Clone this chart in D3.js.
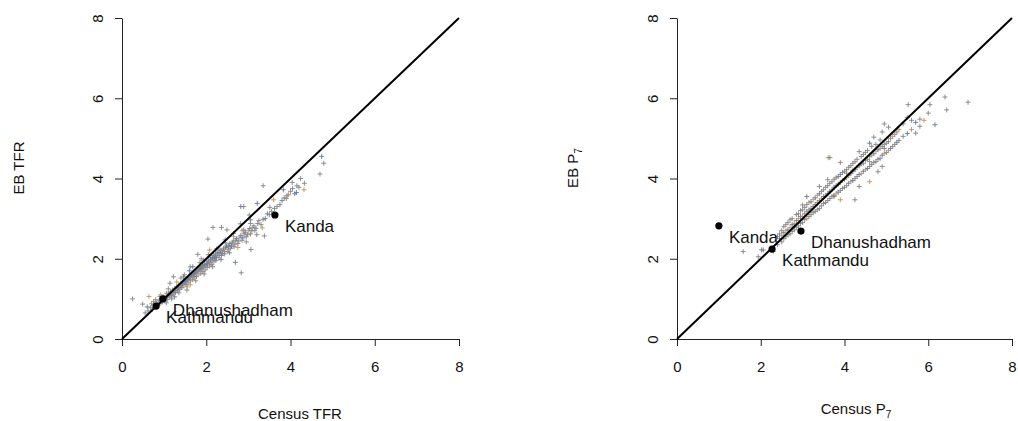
<!DOCTYPE html>
<html>
<head>
<meta charset="utf-8">
<script src="https://cdn.jsdelivr.net/npm/d3@7"></script>
<style>
  html, body { margin: 0; padding: 0; background: #fff; }
  svg { display: block; font-family: "Liberation Sans", Arial, sans-serif; }
</style>
</head>
<body>
<svg id="chart" width="1018" height="421"></svg>
<script>
// Axis ticks shared by both panels
const tickValues = [0, 2, 4, 6, 8];
const axisDomain = [0, 8];

// District estimates: [census, empirical Bayes, region group]
const tfrPoints = [
  [0.25,1.00,0],[0.49,0.87,0],[0.64,1.06,2],[0.55,0.65,0],[0.60,0.80,1],[0.62,0.70,0],[0.68,0.78,0],
  [0.70,0.88,2],[0.72,0.74,0],[0.75,0.85,1],[0.75,0.93,0],[0.78,0.80,0],[0.80,0.98,0],[0.82,0.90,2],
  [0.85,0.84,0],[0.88,0.95,1],[0.90,0.88,0],[0.90,1.06,0],[0.92,1.10,2],[0.93,0.98,0],[0.95,0.92,0],
  [0.98,1.05,1],[1.00,0.96,0],[1.02,1.02,0],[1.05,1.08,2],[1.05,0.90,0],[1.06,1.14,0],[1.07,0.98,1],
  [1.10,1.12,0],[1.10,1.25,0],[1.12,1.04,2],[1.14,1.39,0],[1.15,1.18,0],[1.17,1.08,1],[1.18,1.00,0],
  [1.20,1.22,0],[1.22,1.12,2],[1.22,1.55,0],[1.25,1.26,0],[1.25,1.05,1],[1.27,1.16,0],[1.30,1.30,0],
  [1.30,1.42,2],[1.32,1.20,0],[1.35,1.34,1],[1.35,1.15,0],[1.37,1.24,0],[1.38,1.30,2],[1.40,1.38,0],
  [1.40,1.52,0],[1.42,1.28,1],[1.45,1.42,0],[1.46,1.55,0],[1.47,1.32,2],[1.48,1.60,0],[1.50,1.46,0],
  [1.52,1.36,1],[1.54,1.22,0],[1.55,1.50,0],[1.55,1.30,2],[1.57,1.40,0],[1.60,1.55,0],[1.60,1.70,1],
  [1.62,1.45,0],[1.62,1.80,0],[1.62,1.35,2],[1.65,1.58,0],[1.67,1.48,0],[1.68,1.80,1],[1.70,1.62,0],
  [1.70,1.55,0],[1.72,1.52,2],[1.75,1.66,0],[1.75,1.45,0],[1.77,1.56,1],[1.80,1.70,0],[1.80,2.11,0],
  [1.82,1.60,2],[1.85,1.74,0],[1.85,1.90,0],[1.86,1.80,1],[1.87,1.64,0],[1.88,2.00,0],[1.90,1.80,2],
  [1.92,1.68,0],[1.94,1.97,0],[1.95,1.84,1],[1.95,1.62,0],[1.97,1.72,0],[2.00,1.88,2],[2.02,1.78,0],
  [2.04,2.49,0],[2.05,1.92,1],[2.05,2.10,0],[2.08,1.82,0],[2.08,2.22,2],[2.10,1.98,0],[2.13,1.86,0],
  [2.15,2.02,1],[2.15,1.80,0],[2.16,2.78,0],[2.18,1.92,2],[2.20,2.06,0],[2.21,2.05,0],[2.23,1.96,1],
  [2.25,2.25,0],[2.26,2.12,0],[2.30,2.02,2],[2.33,2.16,0],[2.33,2.22,0],[2.35,1.98,1],[2.36,2.78,0],
  [2.36,2.08,0],[2.40,2.22,2],[2.43,2.12,0],[2.45,2.40,0],[2.45,2.47,1],[2.46,2.28,0],[2.49,2.72,0],
  [2.50,2.18,2],[2.53,2.30,0],[2.54,2.34,0],[2.55,2.15,1],[2.58,2.26,0],[2.62,2.40,0],[2.65,2.55,2],
  [2.65,2.63,0],[2.66,2.30,0],[2.69,1.91,1],[2.70,2.46,0],[2.75,2.38,0],[2.75,2.28,2],[2.80,2.54,0],
  [2.81,2.87,0],[2.82,3.30,1],[2.83,1.65,0],[2.85,2.46,0],[2.85,2.70,2],[2.89,2.72,0],[2.89,3.30,0],
  [2.90,2.62,1],[2.95,2.55,0],[2.95,2.42,0],[3.00,2.70,2],[3.02,3.09,0],[3.05,2.62,0],[3.05,2.97,1],
  [3.05,2.88,0],[3.06,2.23,0],[3.10,2.78,2],[3.15,2.70,0],[3.20,2.60,0],[3.21,3.38,1],[3.22,2.88,0],
  [3.30,2.85,0],[3.33,2.77,2],[3.35,3.82,0],[3.38,2.57,0],[3.40,3.00,1],[3.50,3.10,0],[3.51,3.28,0],
  [3.60,3.47,2],[3.62,3.25,0],[3.75,3.35,0],[3.83,3.72,1],[3.85,3.52,0],[3.92,3.57,0],[3.95,3.60,2],
  [4.04,3.90,0],[4.05,3.75,0],[4.14,3.65,1],[4.15,3.82,0],[4.24,4.00,0],[4.32,3.72,2],[4.33,3.88,0],
  [4.70,4.11,0],[4.74,4.55,1],[4.79,4.38,0],
  [0.84,0.86,0],[0.96,0.94,1],[1.04,1.00,0],[1.08,1.05,0],[1.13,1.10,1],[1.16,1.12,0],[1.21,1.15,0],
  [1.24,1.20,1],[1.28,1.22,0],[1.31,1.27,0],[1.34,1.28,1],[1.38,1.33,0],[1.41,1.35,0],[1.44,1.38,1],
  [1.46,1.40,0],[1.49,1.43,0],[1.51,1.44,1],[1.53,1.48,0],[1.56,1.49,0],[1.58,1.52,1],[1.61,1.53,0],
  [1.63,1.57,0],[1.66,1.60,1],[1.69,1.61,0],[1.71,1.65,0],[1.73,1.63,1],[1.76,1.70,0],[1.78,1.68,0],
  [1.81,1.74,1],[1.83,1.72,0],[1.86,1.77,0],[1.89,1.76,1],[1.91,1.83,0],[1.93,1.79,0],[1.96,1.86,1],
  [1.99,1.82,0],[2.01,1.94,0],[2.03,1.87,1],[2.06,1.97,0],[2.09,1.90,0],[2.11,2.03,1],[2.14,1.95,0],
  [2.17,2.08,0],[2.19,2.00,1],[2.22,2.12,0],[2.24,2.03,0],[2.28,2.16,1],[2.31,2.08,0],[2.35,2.20,0],
  [2.38,2.13,1],[2.41,2.26,0],[2.44,2.18,0],[2.48,2.32,1],[2.52,2.24,0],[2.56,2.38,0],[2.60,2.32,1],
  [2.64,2.44,0],[2.68,2.36,0],[2.72,2.50,1],[2.77,2.44,0],[2.82,2.58,0],[2.87,2.52,1],[2.93,2.66,0],
  [2.98,2.60,0],[3.03,2.75,1],[3.08,2.70,0],[3.13,2.82,0],[3.18,2.76,1],[3.25,2.95,0],[3.35,2.98,0],
  [3.45,3.12,1],[3.55,3.18,0],[3.68,3.30,0],[3.80,3.45,1],[3.90,3.50,0],[4.00,3.68,0],[4.10,3.62,1],
  [4.20,3.78,0]
];

const p7Points = [
  [1.58,2.18,0],[1.94,2.05,0],[2.02,2.22,1],[2.06,2.22,0],[2.30,2.18,2],
  [2.40,2.35,0],[2.40,2.55,0],[2.45,2.50,1],[2.45,2.62,0],[2.50,2.42,0],[2.50,2.58,2],[2.50,2.70,0],
  [2.55,2.50,0],[2.55,2.65,1],[2.55,2.80,0],[2.60,2.55,0],[2.60,2.70,2],[2.60,2.85,0],[2.65,2.60,0],
  [2.65,2.72,1],[2.65,2.90,0],[2.70,2.62,0],[2.70,2.78,2],[2.70,2.97,0],[2.75,2.68,0],[2.75,2.85,1],
  [2.75,3.00,0],[2.80,2.72,0],[2.80,2.88,2],[2.80,2.80,0],[2.85,2.78,0],[2.85,2.95,1],[2.85,3.10,0],
  [2.90,2.82,0],[2.90,3.00,2],[2.90,3.12,0],[2.95,2.88,0],[2.95,3.05,1],[2.95,3.20,0],[3.00,2.90,0],
  [3.00,3.06,2],[3.00,3.22,0],[3.00,3.34,0],[3.05,2.98,1],[3.05,3.12,0],[3.05,3.28,0],[3.10,3.00,2],
  [3.10,3.18,0],[3.10,3.35,0],[3.10,3.55,1],[3.15,3.05,0],[3.15,3.22,0],[3.15,3.40,2],[3.20,3.10,0],
  [3.20,3.25,0],[3.20,3.42,1],[3.25,3.15,0],[3.25,3.30,0],[3.25,3.48,2],[3.30,3.18,0],[3.30,3.35,0],
  [3.30,3.52,1],[3.35,3.22,0],[3.35,3.40,0],[3.35,3.58,2],[3.40,3.25,0],[3.40,3.45,0],[3.40,3.62,1],
  [3.40,3.80,0],[3.45,3.32,0],[3.45,3.50,2],[3.45,3.68,0],[3.50,3.38,0],[3.50,3.55,1],[3.50,3.72,0],
  [3.55,3.40,0],[3.55,3.58,2],[3.55,3.78,0],[3.60,3.45,0],[3.60,3.62,1],[3.60,3.82,0],[3.60,3.97,0],
  [3.61,4.52,2],[3.65,4.52,0],[3.65,3.50,0],[3.65,3.68,1],[3.65,3.88,0],[3.70,3.55,0],[3.70,3.72,2],
  [3.70,3.92,0],[3.75,3.58,0],[3.75,3.78,1],[3.75,3.98,0],[3.75,3.55,0],[3.80,3.62,2],[3.80,3.82,0],
  [3.80,4.02,0],[3.85,3.66,1],[3.85,3.86,0],[3.85,4.05,0],[3.90,3.47,2],[3.90,3.70,0],[3.90,3.90,0],
  [3.90,4.10,1],[3.90,4.40,0],[3.95,3.75,0],[3.95,3.95,2],[3.95,4.15,0],[4.00,3.78,0],[4.00,3.98,1],
  [4.00,4.18,0],[4.05,3.82,0],[4.05,4.02,2],[4.05,4.13,0],[4.05,4.22,0],[4.10,3.88,1],[4.10,4.08,0],
  [4.10,4.28,0],[4.15,3.92,2],[4.15,4.12,0],[4.15,4.32,0],[4.20,3.95,1],[4.20,4.18,0],[4.20,4.38,0],
  [4.20,4.21,2],[4.25,3.47,0],[4.25,4.00,0],[4.25,4.22,1],[4.25,4.42,0],[4.30,4.05,0],[4.30,4.28,2],
  [4.30,4.48,0],[4.35,3.80,0],[4.35,4.10,1],[4.35,4.32,0],[4.35,4.67,0],[4.40,4.12,2],[4.40,4.36,0],
  [4.40,4.55,0],[4.45,4.18,1],[4.45,4.38,0],[4.45,4.60,0],[4.50,4.22,2],[4.50,4.45,0],[4.50,4.65,0],
  [4.55,4.25,1],[4.55,4.48,0],[4.55,4.70,0],[4.60,3.92,2],[4.60,4.30,0],[4.60,4.55,0],[4.60,4.88,1],
  [4.60,4.42,0],[4.65,4.35,0],[4.65,4.58,2],[4.65,4.80,0],[4.70,4.40,0],[4.70,4.62,1],[4.70,5.03,0],
  [4.75,4.42,0],[4.75,4.68,2],[4.75,4.85,0],[4.80,4.48,0],[4.80,4.72,1],[4.80,4.17,0],[4.85,4.50,0],
  [4.85,4.75,2],[4.85,4.96,0],[4.90,4.30,0],[4.90,4.58,1],[4.90,4.80,0],[4.90,5.16,0],[4.95,4.62,2],
  [4.95,4.85,0],[4.95,5.36,0],[4.95,4.75,1],[5.00,4.65,0],[5.00,4.88,0],[5.05,4.70,2],[5.05,4.92,0],
  [5.05,5.28,0],[5.10,4.75,1],[5.10,5.00,0],[5.15,4.80,0],[5.15,5.05,2],[5.20,4.85,0],[5.20,5.10,0],
  [5.25,4.90,1],[5.25,5.16,0],[5.30,4.95,0],[5.30,5.22,2],[5.40,5.05,0],[5.40,5.36,0],[5.50,5.12,1],
  [5.50,5.52,0],[5.52,5.84,0],[5.60,5.22,2],[5.60,5.45,0],[5.70,5.13,0],[5.70,5.40,1],[5.80,5.30,0],
  [5.80,5.48,0],[5.90,5.45,2],[6.00,5.63,0],[6.04,5.84,0],[6.16,5.34,1],[6.40,6.03,0],[6.44,5.71,0],
  [6.95,5.90,0]
];

// Highlighted districts: name, census, EB
const tfrNamed = [
  ["Kanda", 3.63, 3.09],
  ["Dhanushadham", 0.97, 1.00],
  ["Kathmandu", 0.81, 0.82]
];
const p7Named = [
  ["Kanda", 1.00, 2.82],
  ["Dhanushadham", 2.96, 2.69],
  ["Kathmandu", 2.27, 2.24]
];

const groupColors = ["#858585", "#6578a3", "#bf9466"];

const svg = d3.select("#chart");

function panel(opts) {
  const x = d3.scaleLinear().domain(axisDomain).range([opts.left, opts.right]);
  const y = d3.scaleLinear().domain(axisDomain).range([339, 18]);
  const g = svg.append("g");

  // x axis
  const xa = g.append("g")
    .attr("transform", `translate(0,${y(0)})`)
    .call(d3.axisBottom(x).tickValues(tickValues).tickSize(7).tickSizeOuter(0).tickPadding(15));
  // y axis
  const ya = g.append("g")
    .attr("transform", `translate(${x(0)},0)`)
    .call(d3.axisLeft(y).tickValues(tickValues).tickSize(7).tickSizeOuter(0));
  [xa, ya].forEach(a => {
    a.select(".domain").attr("stroke", "#222").attr("stroke-width", 1);
    a.selectAll(".tick line").attr("stroke", "#222");
    a.selectAll("text").attr("font-size", 15).attr("fill", "#111")
      .attr("font-family", "'Liberation Sans', Arial, sans-serif");
  });
  ya.selectAll(".tick text")
    .attr("x", null).attr("dy", null)
    .attr("text-anchor", "middle")
    .attr("transform", "translate(-19,0) rotate(-90)");

  // district crosses
  g.append("g").selectAll("path")
    .data(opts.points)
    .join("path")
    .attr("d", "M-2.5,0H2.5M0,-2.5V2.5")
    .attr("transform", d => `translate(${x(d[0])},${y(d[1])})`)
    .attr("stroke", d => groupColors[d[2]])
    .attr("stroke-width", 0.9)
    .attr("fill", "none");

  // identity line
  g.append("line")
    .attr("x1", x(0)).attr("y1", y(0))
    .attr("x2", x(8)).attr("y2", y(8))
    .attr("stroke", "#000").attr("stroke-width", 2);

  // highlighted districts
  g.append("g").selectAll("circle")
    .data(opts.named)
    .join("circle")
    .attr("cx", d => x(d[1])).attr("cy", d => y(d[2]))
    .attr("r", 3.6).attr("fill", "#000");
  g.append("g").selectAll("text")
    .data(opts.named)
    .join("text")
    .attr("x", d => x(d[1]) + 10).attr("y", d => y(d[2]) + 17)
    .attr("font-size", 17).attr("fill", "#111")
    .text(d => d[0]);

  // axis titles
  const xt = g.append("text")
    .attr("x", opts.xTitleX).attr("y", opts.xTitleY)
    .attr("text-anchor", "middle").attr("font-size", 15).attr("fill", "#111");
  xt.append("tspan").text(opts.xTitle);
  if (opts.sub) xt.append("tspan").attr("font-size", 10).attr("dy", 4).text(opts.sub);

  const yt = g.append("text")
    .attr("transform", `translate(${opts.yTitleX},168) rotate(-90)`)
    .attr("text-anchor", "middle").attr("font-size", 15).attr("fill", "#111");
  yt.append("tspan").text(opts.yTitle);
  if (opts.sub) yt.append("tspan").attr("font-size", 10).attr("dy", 4).text(opts.sub);
}

panel({
  left: 122, right: 459, points: tfrPoints, named: tfrNamed,
  xTitle: "Census TFR", yTitle: "EB TFR",
  xTitleX: 300, xTitleY: 419, yTitleX: 24
});
panel({
  left: 677, right: 1012, points: p7Points, named: p7Named,
  xTitle: "Census P", yTitle: "EB P", sub: "7",
  xTitleX: 856, xTitleY: 414, yTitleX: 578
});
</script>
</body>
</html>
